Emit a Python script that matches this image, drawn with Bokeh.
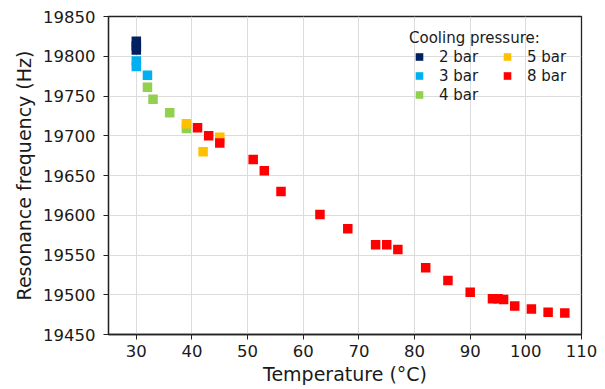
from bokeh.plotting import figure
from bokeh.models import Legend, LegendItem, FixedTicker, Range1d
from bokeh.embed import file_html
from bokeh.resources import INLINE

# Data (temperature in °C, resonance frequency in Hz) per cooling pressure
t_2bar = [30, 30, 30]
f_2bar = [19819, 19813, 19808]

t_3bar = [30, 30, 32]
f_3bar = [19794, 19787, 19776]

t_4bar = [32, 33, 36, 39]
f_4bar = [19761, 19746, 19729, 19709]

t_5bar = [39, 42, 45]
f_5bar = [19715, 19680, 19698]

t_8bar = [41, 43, 45, 51, 53, 56, 63, 68, 73, 75, 77, 82, 86, 90, 94, 95, 96, 98, 101, 104, 107]
f_8bar = [19710, 19700, 19691, 19670, 19656, 19630, 19601, 19583, 19563, 19563, 19557, 19534,
          19518, 19503, 19495, 19495, 19494, 19486, 19482, 19478, 19477]

labels = ["2 bar", "3 bar", "4 bar", "5 bar", "8 bar"]
colors = ["#002060", "#00B0F0", "#92D050", "#FFC000", "#FF0000"]

x_ticks = [30, 40, 50, 60, 70, 80, 90, 100, 110]
y_ticks = [19450, 19500, 19550, 19600, 19650, 19700, 19750, 19800, 19850]

FONT = "DejaVu Sans"
TXT = "#1a1a1a"

p = figure(width=605, height=389, output_backend="svg", toolbar_location=None,
           x_range=Range1d(25, 110), y_range=Range1d(19450, 19850),
           min_border_left=108, min_border_right=24, min_border_top=16, min_border_bottom=55)

p.background_fill_color = "white"
p.border_fill_color = "white"
p.outline_line_color = "#222222"
p.outline_line_width = 1.3
p.outline_line_alpha = 1.0

p.xaxis.ticker = FixedTicker(ticks=x_ticks)
p.yaxis.ticker = FixedTicker(ticks=y_ticks)
for ax in (p.xaxis, p.yaxis):
    ax.axis_line_color = "#222222"
    ax.axis_line_width = 1.3
    ax.major_tick_line_color = "#222222"
    ax.major_tick_out = 5
    ax.major_tick_in = 0
    ax.minor_tick_line_color = None
    ax.major_label_text_font = FONT
    ax.major_label_text_font_size = "16.5px"
    ax.major_label_text_color = TXT
    ax.axis_label_text_font = FONT
    ax.axis_label_text_font_size = "19px"
    ax.axis_label_text_font_style = "normal"
    ax.axis_label_text_color = TXT

p.xaxis.axis_label = "Temperature (°C)"
p.yaxis.axis_label = "Resonance frequency (Hz)"
p.yaxis.major_label_standoff = 8
p.yaxis.axis_label_standoff = 5
p.xaxis.major_label_standoff = 5
p.xaxis.axis_label_standoff = 3

p.xgrid.grid_line_color = "#dcdcdc"
p.ygrid.grid_line_color = "#dcdcdc"
p.xgrid.grid_line_width = 1
p.ygrid.grid_line_width = 1

series = [(t_2bar, f_2bar), (t_3bar, f_3bar), (t_4bar, f_4bar), (t_5bar, f_5bar), (t_8bar, f_8bar)]
items = []
for (tx, fy), lab, col in zip(series, labels, colors):
    r = p.scatter(tx, fy, marker="square", size=9.5, fill_color=col, line_color=None)
    items.append(LegendItem(label=lab, renderers=[r]))

legend = Legend(items=items, location=(296, 225), nrows=3, orientation="vertical",
                title="Cooling pressure:",
                title_text_font=FONT, title_text_font_size="15px", title_text_font_style="normal",
                title_text_color=TXT, title_standoff=0,
                label_text_font=FONT, label_text_font_size="15px", label_text_color=TXT,
                glyph_width=20, glyph_height=19, label_standoff=10, label_width=58,
                spacing=0, padding=5, margin=0,
                background_fill_alpha=0, border_line_alpha=0)
p.add_layout(legend)

open("out.html", "w").write(file_html(p, INLINE))
